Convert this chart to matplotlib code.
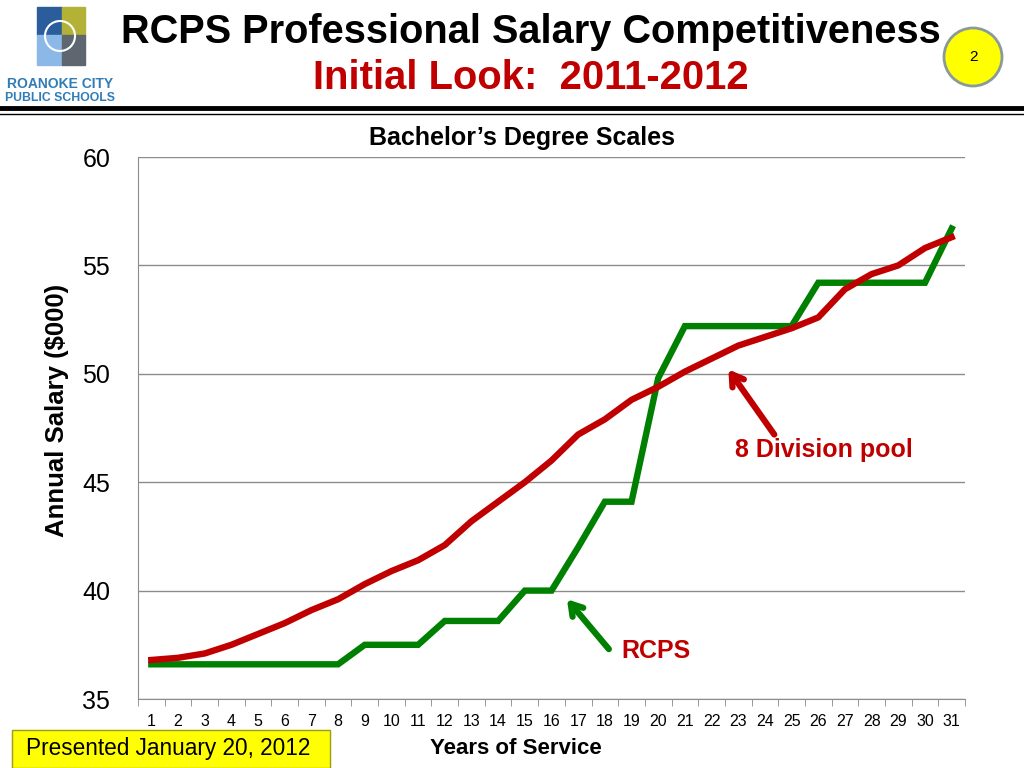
import matplotlib
matplotlib.use("Agg")
import matplotlib.pyplot as plt
from matplotlib.patches import Rectangle, Ellipse

plt.rcParams['font.family'] = ['Liberation Sans', 'DejaVu Sans']

YEARS = list(range(1, 32))
RCPS = [36.6, 36.6, 36.6, 36.6, 36.6, 36.6, 36.6, 36.6, 37.5, 37.5,
        37.5, 38.6, 38.6, 38.6, 40.0, 40.0, 42.0, 44.1, 44.1, 49.8,
        52.2, 52.2, 52.2, 52.2, 52.2, 54.2, 54.2, 54.2, 54.2, 54.2, 56.7]
POOL = [36.8, 36.9, 37.1, 37.5, 38.0, 38.5, 39.1, 39.6, 40.3, 40.9,
        41.4, 42.1, 43.2, 44.1, 45.0, 46.0, 47.2, 47.9, 48.8, 49.4,
        50.1, 50.7, 51.3, 51.7, 52.1, 52.6, 53.9, 54.6, 55.0, 55.8, 56.3]
Y_TICKS = [35, 40, 45, 50, 55, 60]

GREEN = "#008000"
RED = "#c00000"
W, H = 1024, 768

fig = plt.figure(figsize=(10.24, 7.68), dpi=100)
ax = fig.add_axes([138 / W, 1 - 699 / H, (965 - 138) / W, (699 - 157) / H])

ax.plot(YEARS, RCPS, color=GREEN, lw=4.6, solid_joinstyle="miter", zorder=3)
ax.plot(YEARS, POOL, color=RED, lw=4.6, solid_joinstyle="round", zorder=4)

ax.set_xlim(0.62, 31.5)
ax.set_ylim(35, 60)
ax.set_yticks(Y_TICKS)
ax.set_yticklabels([str(v) for v in Y_TICKS], fontsize=18)
ax.set_xticks(YEARS)
ax.set_xticklabels([str(v) for v in YEARS], fontsize=11.5)
ax.set_xticks([y + 0.5 for y in [0] + YEARS], minor=True)
ax.tick_params(axis="x", which="major", length=0, pad=11)
ax.tick_params(axis="x", which="minor", length=5, color="#888888")
ax.tick_params(axis="y", length=0, pad=20)
ax.grid(axis="y", color="#8c8c8c", lw=1.0)
ax.set_axisbelow(True)
for s in ["top", "right"]:
    ax.spines[s].set_visible(False)
ax.spines["left"].set_color("#8c8c8c")
ax.spines["bottom"].set_color("#8c8c8c")

fig.text(522 / W, 1 - 138 / H, "Bachelor\u2019s Degree Scales", fontsize=18,
         fontweight="bold", ha="center", va="center")
ax.set_ylabel("Annual Salary ($000)", fontsize=18.5, fontweight="bold")
ax.yaxis.set_label_coords(-0.083, 0.533)

# annotations
ax.annotate("", xy=(22.63, 50.2), xytext=(24.35, 47.2),
            arrowprops=dict(arrowstyle="->,head_length=0.8,head_width=0.5", color=RED, lw=4.5,
                            shrinkA=0, shrinkB=0), zorder=5)
ax.text(26.2, 46.5, "8 Division pool", color=RED, fontsize=18, fontweight="bold",
        ha="center", va="center")
ax.annotate("", xy=(16.58, 39.6), xytext=(18.15, 37.3),
            arrowprops=dict(arrowstyle="->,head_length=0.8,head_width=0.5", color=GREEN, lw=4.5,
                            shrinkA=0, shrinkB=0), zorder=5)
ax.text(19.9, 37.2, "RCPS", color=RED, fontsize=18, fontweight="bold",
        ha="center", va="center")

# header
fig.text(531 / W, 1 - 32 / H, "RCPS Professional Salary Competitiveness",
         fontsize=28.6, fontweight="bold", ha="center", va="center")
fig.text(531 / W, 1 - 78 / H, "Initial Look:  2011-2012", color=RED,
         fontsize=28.8, fontweight="bold", ha="center", va="center")
fig.add_artist(plt.Line2D([0, 1], [1 - 108 / H] * 2, color="black", lw=3.5,
                          transform=fig.transFigure))
fig.add_artist(plt.Line2D([0, 1], [1 - 114 / H] * 2, color="black", lw=1.0,
                          transform=fig.transFigure))

# logo (simplified)
def frect(x, y, w, h, c):
    fig.add_artist(Rectangle((x / W, 1 - (y + h) / H), w / W, h / H, color=c,
                             transform=fig.transFigure))
frect(37, 7, 25, 28, "#2b5d9c")
frect(62, 7, 23, 28, "#b3b236")
frect(37, 35, 25, 30, "#8cb8e8")
frect(62, 35, 23, 30, "#5e6670")
fig.add_artist(Ellipse((60 / W, 1 - 36 / H), 30 / W, 30 / H, fill=False, ec="white", lw=1.5,
                       transform=fig.transFigure))
fig.text(60 / W, 1 - 84 / H, "ROANOKE CITY", color="#2f7cb6", fontsize=10,
         fontweight="bold", ha="center", va="center")
fig.text(60 / W, 1 - 98 / H, "PUBLIC SCHOOLS", color="#2f7cb6", fontsize=8.8,
         fontweight="bold", ha="center", va="center")

# page number
fig.add_artist(Ellipse((973 / W, 1 - 57 / H), 58 / W, 58 / H, fc="#ffff00", ec="#8a9a9a", lw=2,
                       transform=fig.transFigure))
fig.text(973 / W, 1 - 57 / H, "2", fontsize=11, ha="center", va="center")

# footer
fig.text(516 / W, 1 - 748 / H, "Years of Service", fontsize=16, fontweight="bold",
         ha="center", va="center")
frect(12, 730, 318, 38, "#ffff00")
fig.add_artist(Rectangle((12 / W, 0), 318 / W, 38 / H, fill=False, ec="#9a9a30", lw=1,
                         transform=fig.transFigure))
fig.text(168 / W, 1 - 749 / H, "Presented January 20, 2012", fontsize=16.3,
         ha="center", va="center")

fig.savefig("out.png", dpi=100)
